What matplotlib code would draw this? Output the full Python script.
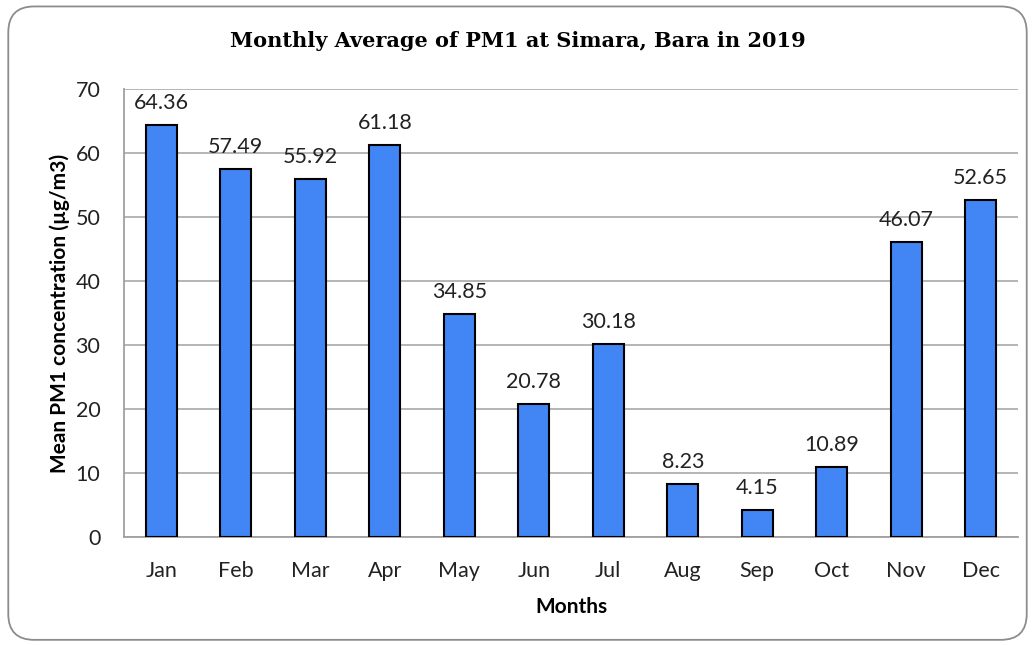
import matplotlib
matplotlib.use("Agg")
import matplotlib.pyplot as plt
from matplotlib.patches import FancyBboxPatch

months = ["Jan", "Feb", "Mar", "Apr", "May", "Jun", "Jul", "Aug", "Sep", "Oct", "Nov", "Dec"]
pm1 = [64.36, 57.49, 55.92, 61.18, 34.85, 20.78, 30.18, 8.23, 4.15, 10.89, 46.07, 52.65]
yticks = [0, 10, 20, 30, 40, 50, 60, 70]

plt.rcParams['font.family'] = ['Lato', 'DejaVu Sans']

fig = plt.figure(figsize=(10.35, 6.45), dpi=100)
frame = FancyBboxPatch((0.008, 0.008), 0.984, 0.982, boxstyle="round,pad=0,rounding_size=0.025",
                       transform=fig.transFigure, facecolor="white", edgecolor="#8c8c8c",
                       linewidth=1.3, mutation_aspect=1035/645, zorder=-10)
fig.patches.append(frame)

ax = fig.add_axes([0.1198, 0.1674, 0.8638, 0.6946])
ax.set_facecolor("none")
ax.set_zorder(5)
x = range(len(months))
bars = ax.bar(x, pm1, width=0.42, color="#4285F4", edgecolor="black", linewidth=1.5, zorder=3)
for xi, v in zip(x, pm1):
    ax.text(xi, v + 1.9, f"{v:.2f}", ha="center", va="bottom", fontsize=15.5, color="#222222")

ax.set_xlim(-0.5, len(months) - 0.5)
ax.set_ylim(0, 70)
ax.set_yticks(yticks)
ax.set_xticks(list(x))
ax.set_xticklabels(months)
ax.tick_params(axis='both', length=0, labelsize=15.5, colors="#222222")
ax.tick_params(axis='x', pad=17)
ax.tick_params(axis='y', pad=17)
ax.yaxis.grid(True, color="#b0b0b0", linewidth=1.3, zorder=0)
for s in ["top", "right"]:
    ax.spines[s].set_visible(False)
for s in ["left", "bottom"]:
    ax.spines[s].set_color("#a0a0a0")
    ax.spines[s].set_linewidth(1.3)

ax.set_xlabel("Months", fontsize=15, fontweight="bold", labelpad=12)
ax.set_ylabel("Mean PM1 concentration (µg/m3)", fontsize=15, fontweight="bold", labelpad=4)

fig.text(0.5, 0.937, "Monthly Average of PM1 at Simara, Bara in 2019", ha="center", va="center",
         fontsize=15, fontweight="bold", family=["DejaVu Serif"])

fig.savefig("out.png", dpi=100)
